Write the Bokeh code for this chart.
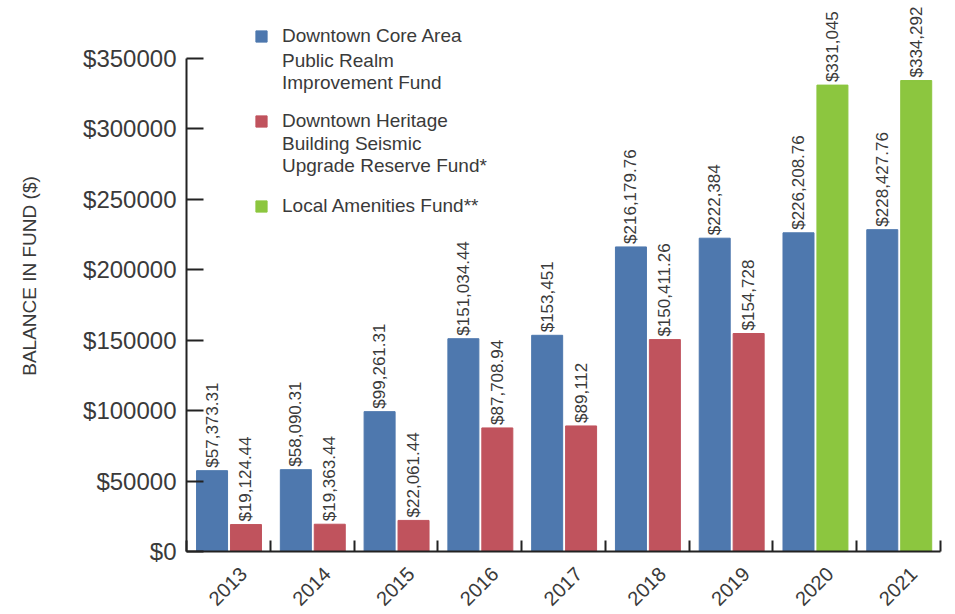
import numpy as np
from bokeh.plotting import figure
from bokeh.models import ColumnDataSource, FixedTicker, Legend, LegendItem, Range1d
from bokeh.transform import dodge
from bokeh.core.properties import value
from bokeh.embed import file_html
from bokeh.resources import INLINE

years = ["2013", "2014", "2015", "2016", "2017", "2018", "2019", "2020", "2021"]
core_fund = [57373.31, 58090.31, 99261.31, 151034.44, 153451, 216179.76, 222384, 226208.76, 228427.76]
heritage_fund = [19124.44, 19363.44, 22061.44, 87708.94, 89112, 150411.26, 154728, None, None]
amenities_fund = [None, None, None, None, None, None, None, 331045, 334292]
series_first_lines = ["Downtown Core Area", "Downtown Heritage", "Local Amenities Fund**"]
series_more_lines = ["Public Realm\nImprovement Fund", "Building Seismic\nUpgrade Reserve Fund*"]
y_ticks = [0, 50000, 100000, 150000, 200000, 250000, 300000, 350000]
y_tick_labels = ["$" + str(t) for t in y_ticks]

FONT = "Liberation Sans"
TXT = "#3a3a3a"
BLUE, RED, GREEN = "#4e78ae", "#c0535d", "#8cc63f"


def fmt(v):
    if float(v).is_integer():
        return "${:,.0f}".format(v)
    return "${:,.2f}".format(v)


idx = list(range(len(years)))


def make_src(vals):
    xs = [i for i, v in zip(idx, vals) if v is not None]
    ys = [v for v in vals if v is not None]
    return ColumnDataSource(dict(x=xs, y=ys, label=[fmt(v) for v in ys]))


src_core = make_src(core_fund)
src_her = make_src(heritage_fund)
src_am = make_src(amenities_fund)

y_end = 350000 * 552 / 494

p = figure(width=955, height=614, output_backend="svg", toolbar_location=None,
           x_range=Range1d(0, len(years)), y_range=Range1d(0, y_end),
           min_border_left=186, min_border_right=15, min_border_top=0, min_border_bottom=62)
p.outline_line_color = None
p.xgrid.grid_line_color = None
p.ygrid.grid_line_color = None
p.background_fill_color = "white"

W = 0.37
OFF_A = 0.305
OFF_B = 0.71

r1 = p.vbar(x=dodge("x", OFF_A), top="y", width=W, source=src_core, color=BLUE)
r2 = p.vbar(x=dodge("x", OFF_B), top="y", width=W, source=src_her, color=RED)
r3 = p.vbar(x=dodge("x", OFF_B), top="y", width=W, source=src_am, color=GREEN)
r_blank = p.vbar(x=[], top=[], width=W, fill_alpha=0, line_alpha=0)

for src, off in [(src_core, OFF_A), (src_her, OFF_B), (src_am, OFF_B)]:
    p.text(x=dodge("x", off), y="y", text="label", source=src, angle=np.pi / 2,
           text_align="left", text_baseline="middle", y_offset=-3,
           text_font=value(FONT), text_font_size="17px", text_color=TXT)

# axes
xa = p.xaxis[0]
label_pos = [i + 0.5 + 0.18 for i in idx]
xa.ticker = FixedTicker(ticks=label_pos, minor_ticks=list(range(len(years) + 1)))
xa.major_label_overrides = {pos: y for pos, y in zip(label_pos, years)}
xa.major_label_orientation = np.pi / 4
xa.major_tick_line_color = None
xa.minor_tick_in = 11
xa.minor_tick_out = 0
xa.minor_tick_line_width = 2
xa.minor_tick_line_color = "#222222"
xa.axis_line_width = 2
xa.axis_line_color = "#222222"
xa.major_label_text_font = FONT
xa.major_label_text_font_size = "20px"
xa.major_label_text_color = TXT
xa.major_label_standoff = 13

ya = p.yaxis[0]
ya.ticker = FixedTicker(ticks=y_ticks)
ya.major_label_overrides = {t: l for t, l in zip(y_ticks, y_tick_labels)}
ya.bounds = (0, 350000)
ya.major_tick_in = 17
ya.major_tick_out = 0
ya.major_tick_line_width = 2
ya.major_tick_line_color = "#222222"
ya.minor_tick_line_color = None
ya.axis_line_width = 2
ya.axis_line_color = "#222222"
ya.major_label_text_font = FONT
ya.major_label_text_font_size = "24px"
ya.major_label_text_color = TXT
ya.major_label_standoff = 10
ya.axis_label = "BALANCE IN FUND ($)"
ya.axis_label_text_font = FONT
ya.axis_label_text_font_size = "19px"
ya.axis_label_text_font_style = "normal"
ya.axis_label_text_color = TXT
ya.axis_label_standoff = 40

common = dict(padding=0, margin=0, glyph_width=14, glyph_height=14, label_standoff=14,
              label_height=23, label_text_font=FONT, label_text_font_size="19px",
              label_text_line_height=1.25,
              label_text_color=TXT, border_line_color=None, background_fill_alpha=0)

# first line of each series (with its colour swatch)
legend_a = Legend(items=[LegendItem(label=series_first_lines[0], renderers=[r1]),
                         LegendItem(label=series_first_lines[1], renderers=[r2]),
                         LegendItem(label=series_first_lines[2], renderers=[r3])],
                  location=(68, 552 - 25 - 23 * 3 - 62 * 2), spacing=62, **common)
# continuation lines of the long series names
legend_b = Legend(items=[LegendItem(label=series_more_lines[0], renderers=[r_blank]),
                         LegendItem(label=series_more_lines[1], renderers=[r_blank])],
                  location=(68, 552 - 47 - 46 * 2 - 39), spacing=39, **common)
p.add_layout(legend_a, "center")
p.add_layout(legend_b, "center")

open("out.html", "w").write(file_html(p, INLINE))
